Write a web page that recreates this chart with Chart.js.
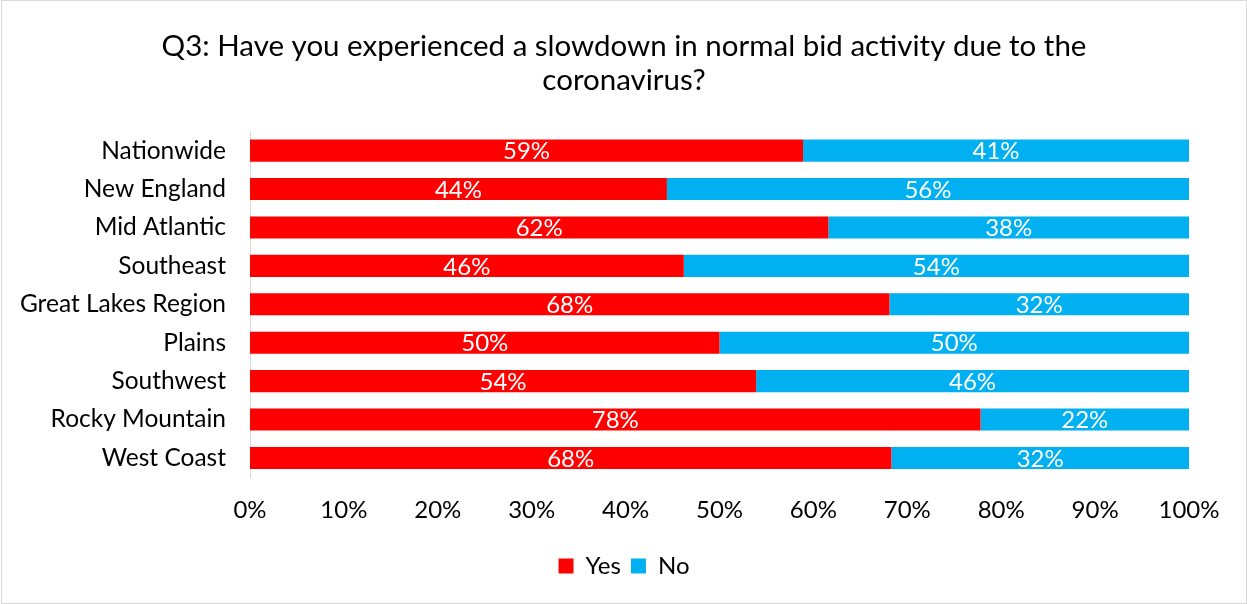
<!DOCTYPE html>
<html>
<head>
<meta charset="utf-8">
<script src="https://cdn.jsdelivr.net/npm/chart.js@4/dist/chart.umd.min.js"></script>
<style>
  html, body { margin: 0; padding: 0; background: #fff; }
  #wrap { width: 1247px; height: 604px; position: relative; }
</style>
</head>
<body>
<div id="wrap"><canvas id="c" width="1247" height="604"></canvas></div>
<script>
const titleLines = ['Q3: Have you experienced a slowdown in normal bid activity due to the', 'coronavirus?'];
const categories = ['Nationwide', 'New England', 'Mid Atlantic', 'Southeast', 'Great Lakes Region', 'Plains', 'Southwest', 'Rocky Mountain', 'West Coast'];
const yesValues = [58.9, 44.4, 61.6, 46.2, 68.1, 50.0, 53.9, 77.8, 68.3];
const noValues = [41.1, 55.6, 38.4, 53.8, 31.9, 50.0, 46.1, 22.2, 31.7];
const seriesNames = ['Yes', 'No'];
const xTicks = [0, 10, 20, 30, 40, 50, 60, 70, 80, 90, 100];

const FONT = 'Lato';

const borderPlugin = {
  id: 'outerBorder',
  beforeDraw(chart) {
    const ctx = chart.ctx;
    ctx.save();
    ctx.fillStyle = '#fff';
    ctx.fillRect(0, 0, chart.width, chart.height);
    ctx.strokeStyle = '#d9d9d9';
    ctx.lineWidth = 1;
    ctx.strokeRect(1.5, 0.5, chart.width - 2, chart.height - 1);
    ctx.restore();
  }
};

const labelPlugin = {
  id: 'barLabels',
  afterDatasetsDraw(chart) {
    const ctx = chart.ctx;
    ctx.save();
    ctx.fillStyle = '#ffffff';
    ctx.font = '24px ' + FONT;
    ctx.textAlign = 'center';
    ctx.textBaseline = 'middle';
    chart.data.datasets.forEach((ds, di) => {
      const meta = chart.getDatasetMeta(di);
      meta.data.forEach((bar, i) => {
        const v = ds.data[i];
        const cx = (bar.x + bar.base) / 2;
        ctx.fillText(Math.round(v) + '%', cx, bar.y + 1);
      });
    });
    ctx.restore();
  }
};

new Chart(document.getElementById('c'), {
  type: 'bar',
  data: {
    labels: categories,
    datasets: [
      { label: seriesNames[0], data: yesValues, backgroundColor: '#FF0000', borderWidth: 0, categoryPercentage: 1, barPercentage: 0.575 },
      { label: seriesNames[1], data: noValues, backgroundColor: '#00B0F0', borderWidth: 0, categoryPercentage: 1, barPercentage: 0.575 }
    ]
  },
  options: {
    indexAxis: 'y',
    responsive: false,
    animation: false,
    devicePixelRatio: 1,
    layout: { padding: { left: 1, right: 0, top: 0, bottom: 16 } },
    scales: {
      x: {
        stacked: true,
        min: 0, max: 100,
        afterBuildTicks(scale) { scale.ticks = xTicks.map(v => ({ value: v })); },
        grid: { display: false, drawTicks: false },
        border: { display: false },
        ticks: { padding: 19, color: '#000', font: { family: FONT, size: 24 }, callback: v => v + '%', maxRotation: 0, autoSkip: false }
      },
      y: {
        stacked: true,
        grid: { display: false, drawTicks: false },
        border: { display: true, color: '#d9d9d9', width: 1 },
        ticks: { padding: 24, color: '#000', font: { family: FONT, size: 24.5 } },
        afterFit(scale) { scale.width = 249; }
      },
      y2: {
        type: 'category',
        axis: 'y',
        labels: categories,
        position: 'right',
        grid: { display: false, drawTicks: false },
        border: { display: false },
        ticks: { display: false },
        afterFit(scale) { scale.width = 58; }
      }
    },
    plugins: {
      title: {
        display: true,
        text: titleLines,
        color: '#000',
        font: { family: FONT, size: 29.5, weight: 'normal', lineHeight: 1.16 },
        padding: { top: 29, bottom: 34 }
      },
      legend: {
        position: 'bottom',
        labels: { boxWidth: 15, boxHeight: 15, color: '#000', font: { family: FONT, size: 24 }, padding: 10 }
      },
      tooltip: { enabled: false }
    }
  },
  plugins: [borderPlugin, labelPlugin]
});
</script>
</body>
</html>
